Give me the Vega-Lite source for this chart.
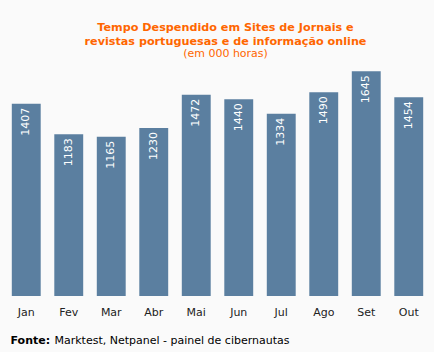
{
  "$schema": "https://vega.github.io/schema/vega-lite/v6.json",
  "width": 425,
  "height": 246,
  "autosize": {"type": "none"},
  "padding": {"left": 5, "top": 50, "right": 4, "bottom": 56},
  "background": "#FAFAFA",
  "config": {"view": {"stroke": null}},
  "title": {
    "text": ["Tempo Despendido em Sites de Jornais e", "revistas portuguesas e de informação online"],
    "subtitle": "(em 000 horas)",
    "anchor": "middle",
    "dx": 8,
    "offset": -9,
    "font": "DejaVu Sans",
    "fontSize": 11.2,
    "fontWeight": "bold",
    "color": "#FF6600",
    "lineHeight": 14,
    "subtitleFont": "DejaVu Sans",
    "subtitleFontSize": 11,
    "subtitleColor": "#FF6600",
    "subtitlePadding": 1
  },
  "data": {"values": [
    {"mes": "Jan", "horas": 1407},
    {"mes": "Fev", "horas": 1183},
    {"mes": "Mar", "horas": 1165},
    {"mes": "Abr", "horas": 1230},
    {"mes": "Mai", "horas": 1472},
    {"mes": "Jun", "horas": 1440},
    {"mes": "Jul", "horas": 1334},
    {"mes": "Ago", "horas": 1490},
    {"mes": "Set", "horas": 1645},
    {"mes": "Out", "horas": 1454}
  ]},
  "resolve": {"axis": {"x": "independent"}},
  "layer": [
    {
      "mark": {"type": "bar", "color": "#5B7FA0"},
      "encoding": {
        "x": {
          "field": "mes", "type": "nominal", "sort": null,
          "scale": {"paddingInner": 0.32, "paddingOuter": 0.16},
          "axis": {
            "orient": "bottom",
            "title": "Fonte:",
            "titleFont": "DejaVu Sans", "titleFontSize": 11, "titleFontWeight": "bold", "titleColor": "#000",
            "titleAnchor": "start", "titleAlign": "left", "titleBaseline": "alphabetic",
            "titleX": 5, "titleY": 47, "titleAngle": 0,
            "labelFont": "DejaVu Sans", "labelFontSize": 11, "labelColor": "#222", "labelAngle": 0,
            "labelPadding": 10, "ticks": false, "domain": false, "grid": false
          }
        },
        "y": {"field": "horas", "type": "quantitative", "scale": {"domain": [0, 1800]}, "axis": null}
      }
    },
    {
      "mark": {"type": "text", "angle": 270, "align": "right", "baseline": "middle", "dx": -4, "color": "#FFFFFF", "font": "DejaVu Sans", "fontSize": 11},
      "encoding": {
        "x": {
          "field": "mes", "type": "nominal", "sort": null,
          "axis": {
            "orient": "bottom",
            "title": "Marktest, Netpanel - painel de cibernautas",
            "titleFont": "DejaVu Sans", "titleFontSize": 11, "titleFontWeight": "normal", "titleColor": "#000",
            "titleAnchor": "start", "titleAlign": "left", "titleBaseline": "alphabetic",
            "titleX": 49, "titleY": 47, "titleAngle": 0,
            "labels": false, "ticks": false, "domain": false, "grid": false
          }
        },
        "y": {"field": "horas", "type": "quantitative"},
        "text": {"field": "horas", "type": "quantitative"}
      }
    }
  ]
}
